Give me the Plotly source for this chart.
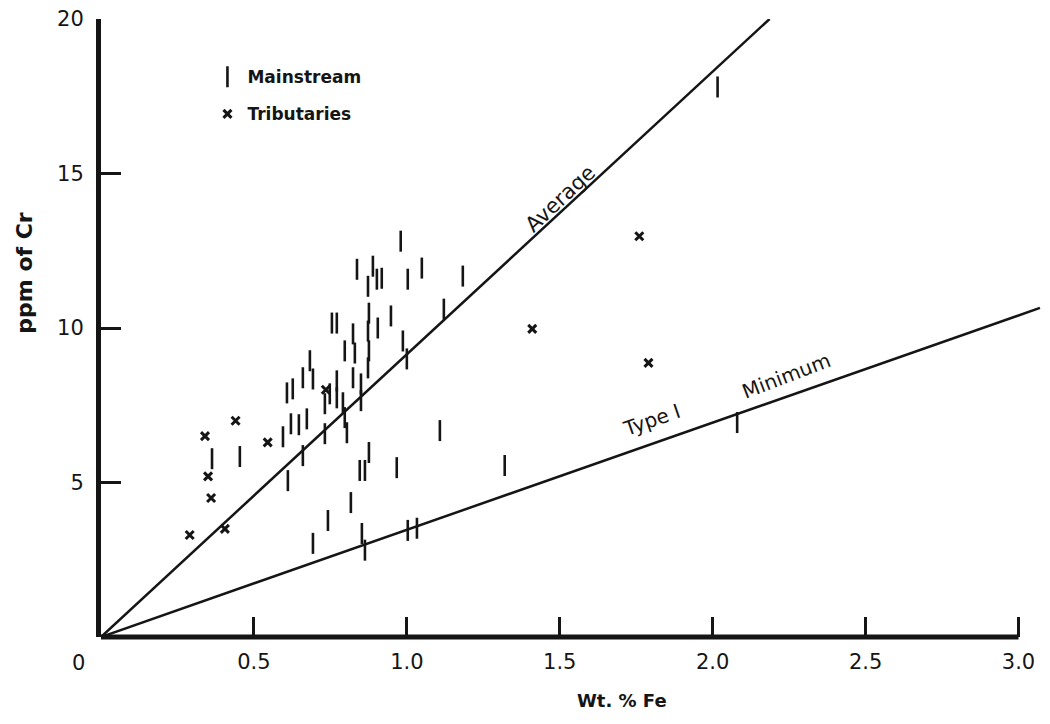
import plotly.graph_objects as go

# ---------------- data ----------------
main_fe = [0.363, 0.454, 0.595, 0.621, 0.647, 0.673, 0.660, 0.611, 0.608, 0.627,
           0.732, 0.804, 0.797, 0.876, 0.846, 0.863, 0.817, 0.742, 0.693, 0.853,
           0.863, 1.108, 0.967, 1.003, 1.033, 1.320, 2.016, 2.080,
           0.980, 0.837, 0.889, 0.902, 0.918, 0.873, 1.003, 1.049, 1.183, 1.121,
           0.876, 0.948, 0.755, 0.771, 0.824, 0.873, 0.905, 0.987, 0.797, 0.830,
           0.876, 0.873, 1.000, 0.824, 0.850, 0.683, 0.660, 0.693, 0.771, 0.748,
           0.771, 0.732, 0.791, 0.850]
main_cr = [5.77, 5.84, 6.48, 6.90, 6.87, 7.06, 5.87, 5.06, 7.90, 8.03,
           6.58, 6.61, 7.10, 5.97, 5.39, 5.39, 4.35, 3.77, 3.03, 3.35,
           2.81, 6.68, 5.48, 3.45, 3.52, 5.55, 17.80, 6.94,
           12.81, 11.90, 12.00, 11.58, 11.61, 11.35, 11.58, 11.94, 11.68, 10.61,
           10.48, 10.39, 10.16, 10.16, 9.81, 9.90, 10.00, 9.58, 9.26, 9.19,
           9.26, 8.71, 9.00, 8.39, 8.19, 8.94, 8.39, 8.35, 8.29, 7.87,
           7.74, 7.55, 7.58, 7.65]

trib_fe = [0.29, 0.34, 0.35, 0.36, 0.405, 0.44, 0.545, 0.735, 1.41, 1.76, 1.79]
trib_cr = [3.3, 6.5, 5.2, 4.5, 3.5, 7.0, 6.3, 8.0, 9.97, 12.97, 8.87]

avg_fe = [0.0, 2.186]
avg_cr = [0.0, 20.0]
min_fe = [0.0, 3.07]
min_cr = [0.0, 10.65]

x_ticks = [0.5, 1.0, 1.5, 2.0, 2.5, 3.0]
x_ticktext = ["0.5", "1.0", "1.5", "2.0", "2.5", "3.0"]
y_ticks = [5, 10, 15, 20]
y_ticktext = ["5", "10", "15", "20"]

INK = "#151515"
FONT = "DejaVu Sans"

fig = go.Figure()

fig.add_trace(go.Scatter(x=avg_fe, y=avg_cr, mode="lines",
                         line=dict(color=INK, width=2.5), showlegend=False,
                         hoverinfo="skip"))
fig.add_trace(go.Scatter(x=min_fe, y=min_cr, mode="lines",
                         line=dict(color=INK, width=2.5), showlegend=False,
                         hoverinfo="skip"))

fig.add_trace(go.Scatter(x=main_fe, y=main_cr, mode="markers", name="Mainstream",
                         legendgroup="a",
                         marker=dict(symbol="line-ns", size=15,
                                     line=dict(color=INK, width=2.6))))
fig.add_trace(go.Scatter(x=trib_fe, y=trib_cr, mode="markers", name="Tributaries",
                         legendgroup="b",
                         marker=dict(symbol="x-thin", size=8,
                                     line=dict(color=INK, width=3))))

# x-axis line drawn only up to 3.0 (Type I line extends slightly beyond)
fig.add_shape(type="line", xref="x", yref="paper", x0=0, x1=3.0, y0=0, y1=0,
              line=dict(color=INK, width=5))

fig.update_layout(
    width=1050, height=724,
    margin=dict(l=101, r=7, t=17, b=87),
    paper_bgcolor="white", plot_bgcolor="white",
    font=dict(family=FONT, color=INK),
    legend=dict(x=0.113, y=0.935, xanchor="left", yanchor="top",
                bgcolor="rgba(0,0,0,0)", tracegroupgap=12,
                font=dict(family=FONT, size=17, weight="bold", color=INK),
                itemwidth=30),
    xaxis=dict(range=[0, 3.08], showgrid=False, zeroline=False, showline=False,
               tickmode="array", tickvals=x_ticks, ticktext=x_ticktext,
               ticks="inside", ticklen=20, tickwidth=3, tickcolor=INK,
               ticklabelstandoff=10,
               tickfont=dict(family=FONT, size=21, color=INK)),
    yaxis=dict(range=[0, 20], showgrid=False, zeroline=False, showline=True,
               linecolor=INK, linewidth=5,
               tickmode="array", tickvals=y_ticks, ticktext=y_ticktext,
               ticks="inside", ticklen=20, tickwidth=3, tickcolor=INK,
               ticklabelstandoff=8,
               tickfont=dict(family=FONT, size=21, color=INK)),
)

ann = [
    dict(text="0", xref="paper", yref="paper", x=-0.0244, y=-0.042,
         font=dict(size=21)),
    dict(text="<b>ppm of Cr</b>", xref="paper", yref="paper", x=-0.081, y=0.589,
         textangle=-90, font=dict(size=22)),
    dict(text="<b>Wt. % Fe</b>", xref="paper", yref="paper", x=0.553, y=-0.102,
         font=dict(size=18)),
    dict(text="Average", xref="x", yref="y", x=1.50, y=14.19, textangle=-43,
         font=dict(size=21)),
    dict(text="Type I", xref="x", yref="y", x=1.80, y=7.03, textangle=-19,
         font=dict(size=20)),
    dict(text="Minimum", xref="x", yref="y", x=2.24, y=8.45, textangle=-21,
         font=dict(size=20)),
]
for a in ann:
    a.setdefault("showarrow", False)
    a["xanchor"] = "center"
    a["yanchor"] = "middle"
    a["font"].update(family=FONT, color=INK)
    fig.add_annotation(**a)

fig.write_html("out.html")
